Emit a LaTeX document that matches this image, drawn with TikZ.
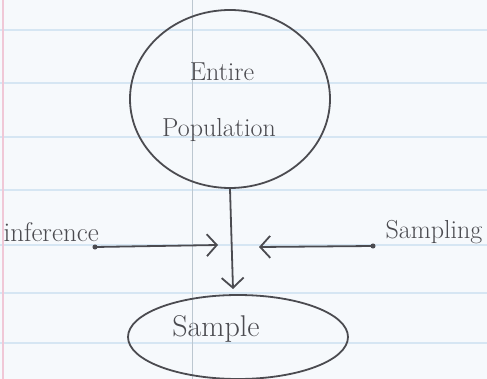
\documentclass[tikz,border=0pt]{standalone}
\usetikzlibrary{arrows.meta,shapes.geometric}
\definecolor{paper}{RGB}{246,249,252}
\definecolor{rule}{RGB}{214,230,243}
\definecolor{margin}{RGB}{240,200,215}
\definecolor{pencil}{RGB}{75,75,80}
\tikzset{
  pen/.style={draw=pencil,line width=1.8pt,line cap=round,line join=round},
  hand/.style={text=pencil,font=\fontsize{26}{30}\selectfont},
  barb/.style={-{Straight Barb[length=10pt,width=22pt,line width=1.8pt]}},
  dotend/.style={fill=pencil,circle,inner sep=1.8pt}
}
\begin{document}
\begin{tikzpicture}[x=1pt,y=-1pt]
\fill[paper] (0,0) rectangle (487,379);
\useasboundingbox (0,0) rectangle (487,379);
\foreach \yy in {30,83,137,190,245,293,343} {\draw[rule,line width=2pt] (0,\yy) -- (487,\yy);}
\draw[rule!70!gray,line width=0.8pt] (192,0) -- (192,379);
\draw[margin,line width=1.2pt] (3,0) -- (3,379);
% nodes
\node[pen,ellipse,minimum width=200pt,minimum height=178pt] (pop) at (230,99) {};
\node[hand] (entire) at (222,72) {Entire};
\node[hand] (popl) at (219,130) {Population};
\node[pen,ellipse,minimum width=220pt,minimum height=84pt] (sample) at (238,337) {};
\node[hand,font=\fontsize{30}{34}\selectfont] (samplet) at (216,329) {Sample};
\node[hand,anchor=west,font=\fontsize{27}{30}\selectfont] (inf) at (0,232) {inference};
\node[hand,anchor=west] (samp) at (382,232) {Sampling};
\coordinate (infstart) at (95,247);
\coordinate (infend) at (218,245);
\coordinate (sampstart) at (373,246);
\coordinate (sampend) at (259,247);
\coordinate (downend) at (233,289);
% connectors
\draw[pen,barb] (pop.south) -- (downend);
\draw[pen,barb] (infstart) -- (infend);
\draw[pen,barb] (sampstart) -- (sampend);
\node[dotend] at (infstart) {};
\node[dotend] at (sampstart) {};
\end{tikzpicture}
\end{document}
